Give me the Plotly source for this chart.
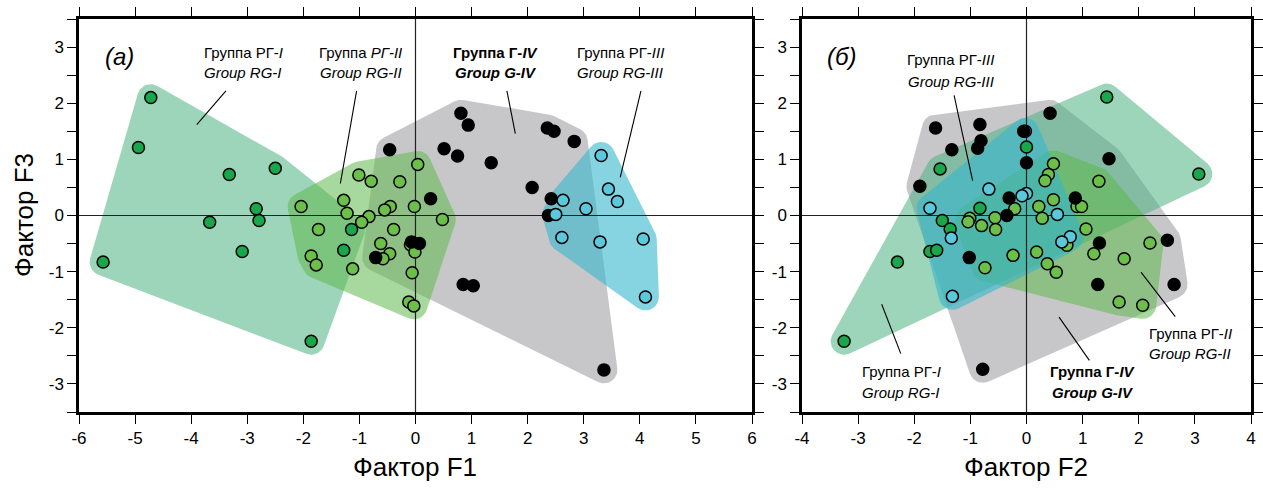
import math
import plotly.graph_objects as go

W, H = 1263, 490

# ---------------- data: panel (a) F1 vs F3 ----------------
a_rg1_x = [-4.72, -4.94, -3.32, -2.50, -2.84, -2.79, -3.67, -3.09, -5.57, -1.86, -1.28, -1.14]
a_rg1_y = [2.10, 1.21, 0.73, 0.84, 0.12, -0.09, -0.12, -0.64, -0.83, -2.24, -0.62, -0.25]

a_rg2_x = [0.04, -1.01, -0.79, -0.28, -1.28, -2.04, -1.22, -0.45, -0.55, -0.02, -0.83, -0.96, 0.48,
           -1.73, -0.39, -0.62, -0.46, -0.58, -0.09, -0.01, -1.86, -1.77, -1.12, -0.06, -0.12, -0.03]
a_rg2_y = [0.91, 0.72, 0.61, 0.60, 0.27, 0.16, 0.04, 0.16, 0.10, 0.16, -0.02, -0.12, -0.07,
           -0.25, -0.25, -0.50, -0.68, -0.77, -0.52, -0.65, -0.72, -0.88, -0.95, -1.02, -1.54, -1.61]

a_g4_x = [-0.46, 0.81, 0.94, 0.51, 0.75, 1.35, 2.35, 2.47, 2.83, 2.08, 2.42, 2.37, 0.27, -0.07, 0.07,
          0.85, 1.03, 3.36, -0.71]
a_g4_y = [1.17, 1.82, 1.61, 1.19, 1.06, 0.94, 1.56, 1.50, 1.32, 0.50, 0.30, 0.00, 0.30, -0.47, -0.50,
          -1.23, -1.25, -2.75, -0.75]

a_rg3_x = [3.31, 3.44, 3.60, 3.04, 2.63, 2.50, 2.61, 3.29, 4.06, 4.10]
a_rg3_y = [1.07, 0.47, 0.25, 0.12, 0.27, 0.02, -0.39, -0.47, -0.42, -1.45]

# ---------------- data: panel (б) F2 vs F3 ----------------
b_rg1_x = [1.43, 3.07, 0.00, -1.54, -0.83, -1.50, -1.36, -1.72, -1.60, -2.30, -3.25]
b_rg1_y = [2.11, 0.74, 1.22, 0.83, 0.13, -0.09, -0.24, -0.64, -0.62, -0.83, -2.24]

b_rg2_x = [0.48, 0.39, 0.33, -0.21, 0.48, 0.22, 0.28, -1.01, -1.04, -0.80, -0.56, -0.55, -0.24, 0.18,
           -0.74, 0.37, 0.53, 1.29, 0.90, 0.98, 1.06, 1.20, 1.74, 2.20, 1.65, 2.07, 0.72]
b_rg2_y = [0.92, 0.73, 0.62, 0.12, 0.28, 0.16, -0.05, -0.05, -0.11, -0.18, -0.04, -0.25, -0.71, -0.65,
           -0.93, -0.86, -1.01, 0.61, 0.16, 0.16, -0.24, -0.68, -0.77, -0.49, -1.54, -1.60, -0.53]

b_g4_x = [-1.62, -0.83, -0.81, -0.87, -1.33, -1.90, -0.31, -0.35, -1.02, -0.78, 0.42, -0.05, 0.00,
          1.47, 0.87, 1.30, 2.51, 1.27, 2.63]
b_g4_y = [1.56, 1.62, 1.33, 1.20, 1.17, 0.52, 0.31, 0.00, -0.75, -2.74, 1.82, 1.50, 0.94,
          1.01, 0.31, -0.49, -0.44, -1.23, -1.23]

b_rg3_x = [-0.67, -1.72, -1.34, -1.32, -0.02, 0.00, -0.08, 0.55, 0.78, 0.63]
b_rg3_y = [0.47, 0.13, -0.40, -1.44, 1.50, 0.39, 0.35, 0.02, -0.38, -0.47]

x_ticks_a = [-6, -5, -4, -3, -2, -1, 0, 1, 2, 3, 4, 5, 6]
x_ticks_b = [-4, -3, -2, -1, 0, 1, 2, 3, 4]
y_ticks = [-3, -2, -1, 0, 1, 2, 3]

# ---------------- styles ----------------
C_RG1_PT, C_RG2_PT, C_RG3_PT, C_G4_PT = "#1aa64a", "#6cc04a", "#5bc8dc", "#000000"
F_RG1 = "rgba(77,179,131,0.55)"
F_RG2 = "rgba(95,184,77,0.55)"
F_RG3 = "rgba(53,182,205,0.6)"
F_G4 = "rgba(172,173,177,0.68)"
PAD = 0.24
FONT = "Liberation Sans, Arial, sans-serif"


def padded_hull(xs, ys, r, n_arc=14):
    pts = sorted(set(zip(xs, ys)))

    def cross(o, a, b):
        return (a[0] - o[0]) * (b[1] - o[1]) - (a[1] - o[1]) * (b[0] - o[0])

    lower, upper = [], []
    for p in pts:
        while len(lower) >= 2 and cross(lower[-2], lower[-1], p) <= 0:
            lower.pop()
        lower.append(p)
    for p in reversed(pts):
        while len(upper) >= 2 and cross(upper[-2], upper[-1], p) <= 0:
            upper.pop()
        upper.append(p)
    hull = lower[:-1] + upper[:-1]  # CCW
    n = len(hull)
    ox, oy = [], []
    for i, p in enumerate(hull):
        pr, nx = hull[i - 1], hull[(i + 1) % n]
        e1 = (p[0] - pr[0], p[1] - pr[1])
        e2 = (nx[0] - p[0], nx[1] - p[1])
        a1 = math.atan2(-e1[0], e1[1])
        a2 = math.atan2(-e2[0], e2[1])
        while a2 < a1:
            a2 += 2 * math.pi
        for k in range(n_arc + 1):
            t = a1 + (a2 - a1) * k / n_arc
            ox.append(p[0] + r * math.cos(t))
            oy.append(p[1] + r * math.sin(t))
    ox.append(ox[0])
    oy.append(oy[0])
    return ox, oy


fig = go.Figure()


def add_panel(xa, ya, xrange, groups_hull, groups_pts):
    for xs, ys, fc in groups_hull:
        hx, hy = padded_hull(xs, ys, PAD)
        fig.add_trace(go.Scatter(x=hx, y=hy, mode="lines", fill="toself", fillcolor=fc,
                                 line=dict(width=0), hoverinfo="skip", showlegend=False,
                                 xaxis=xa, yaxis=ya))
    # zero reference lines (between hulls and points)
    fig.add_trace(go.Scatter(x=[xrange[0], xrange[1]], y=[0, 0], mode="lines",
                             line=dict(color="#222", width=1.2), showlegend=False,
                             hoverinfo="skip", xaxis=xa, yaxis=ya))
    fig.add_trace(go.Scatter(x=[0, 0], y=[-3.5, 3.5], mode="lines",
                             line=dict(color="#222", width=1.2), showlegend=False,
                             hoverinfo="skip", xaxis=xa, yaxis=ya))
    for xs, ys, col in groups_pts:
        fig.add_trace(go.Scatter(x=xs, y=ys, mode="markers",
                                 marker=dict(size=12, color=col, line=dict(color="black", width=1.5)),
                                 showlegend=False, xaxis=xa, yaxis=ya))


add_panel("x", "y", (-6, 6),
          [(a_g4_x, a_g4_y, F_G4), (a_rg1_x, a_rg1_y, F_RG1),
           (a_rg2_x, a_rg2_y, F_RG2), (a_rg3_x, a_rg3_y, F_RG3)],
          [(a_rg1_x, a_rg1_y, C_RG1_PT), (a_rg2_x, a_rg2_y, C_RG2_PT),
           (a_g4_x, a_g4_y, C_G4_PT), (a_rg3_x, a_rg3_y, C_RG3_PT)])
add_panel("x2", "y2", (-4, 4),
          [(b_g4_x, b_g4_y, F_G4), (b_rg1_x, b_rg1_y, F_RG1),
           (b_rg2_x, b_rg2_y, F_RG2), (b_rg3_x, b_rg3_y, F_RG3)],
          [(b_rg1_x, b_rg1_y, C_RG1_PT), (b_rg2_x, b_rg2_y, C_RG2_PT),
           (b_rg3_x, b_rg3_y, C_RG3_PT), (b_g4_x, b_g4_y, C_G4_PT)])


def tick_txt(vals):
    return [("-" + str(abs(v))) if v < 0 else str(v) for v in vals]


ydom = [1 - 412 / H, 1 - 19 / H]
axis_common = dict(showline=True, linecolor="black", linewidth=2.5, mirror="allticks",
                   ticks="outside", ticklen=9, tickwidth=1.2, tickcolor="black",
                   showgrid=False, zeroline=False, automargin=False,
                   tickfont=dict(family=FONT, size=17, color="black"))
minor_y = dict(dtick=0.5, ticks="outside", ticklen=9, tickwidth=1.2, tickcolor="black")

fig.update_layout(
    width=W, height=H, margin=dict(l=0, r=0, t=0, b=0),
    paper_bgcolor="white", plot_bgcolor="white",
    xaxis=dict(domain=[79 / W, 752 / W], range=[-6, 6], tickvals=x_ticks_a,
               ticktext=tick_txt(x_ticks_a), anchor="y", **axis_common),
    yaxis=dict(domain=ydom, range=[-3.5, 3.5], tickvals=y_ticks, ticktext=tick_txt(y_ticks),
               anchor="x", minor=minor_y, **axis_common),
    xaxis2=dict(domain=[802 / W, 1251 / W], range=[-4, 4], tickvals=x_ticks_b,
                ticktext=tick_txt(x_ticks_b), anchor="y2", **axis_common),
    yaxis2=dict(domain=ydom, range=[-3.5, 3.5], tickvals=y_ticks, ticktext=tick_txt(y_ticks),
                anchor="x2", minor=minor_y, **axis_common),
)

# group labels: (xref, yref, x, y1, y2, line1, line2, leader x0,y0,x1,y1)
labels = [
    ("x", "y", -3.07, 2.91, 2.55, "Группа РГ-<i>I</i>", "<i>Group RG-I</i>", (-3.38, 2.22, -3.90, 1.62)),
    ("x", "y", -0.98, 2.91, 2.55, "Группа <i>РГ-II</i>", "<i>Group RG-II</i>", (-1.05, 2.22, -1.34, 0.57)),
    ("x", "y", 1.43, 2.91, 2.55, "<b>Группа Г-<i>IV</i></b>", "<b><i>Group G-IV</i></b>", (1.63, 2.22, 1.78, 1.46)),
    ("x", "y", 3.65, 2.91, 2.55, "Группа РГ-<i>III</i>", "<i>Group RG-III</i>", (4.02, 2.22, 3.65, 0.68)),
    ("x2", "y2", -1.35, 2.77, 2.39, "Группа РГ-<i>III</i>", "<i>Group RG-III</i>", (-1.29, 2.14, -0.96, 0.62)),
    ("x2", "y2", -2.23, -2.78, -3.15, "Группа РГ-<i>I</i>", "<i>Group RG-I</i>", (-2.58, -1.58, -2.24, -2.46)),
    ("x2", "y2", 1.19, -2.78, -3.16, "<b>Группа Г-<i>IV</i></b>", "<b><i>Group G-IV</i></b>", (0.58, -1.81, 1.12, -2.58)),
    ("x2", "y2", 2.92, -2.10, -2.45, "Группа РГ-<i>II</i>", "<i>Group RG-II</i>", (2.04, -1.01, 2.65, -1.80)),
]
for xr, yr, x, y1, y2, t1, t2, ld in labels:
    for yy, tt in ((y1, t1), (y2, t2)):
        fig.add_annotation(x=x, y=yy, xref=xr, yref=yr, text=tt, showarrow=False,
                           font=dict(family=FONT, size=15, color="black"),
                           xanchor="center", yanchor="middle")
    fig.add_shape(type="line", xref=xr, yref=yr, x0=ld[0], y0=ld[1], x1=ld[2], y1=ld[3],
                  line=dict(color="black", width=1.1))

# panel letters
fig.add_annotation(x=-5.28, y=2.83, xref="x", yref="y", text="<i>(а)</i>", showarrow=False,
                   font=dict(family=FONT, size=24, color="black"), xanchor="center", yanchor="middle")
fig.add_annotation(x=-3.29, y=2.84, xref="x2", yref="y2", text="<i>(б)</i>", showarrow=False,
                   font=dict(family=FONT, size=24, color="black"), xanchor="center", yanchor="middle")

# axis titles
fig.add_annotation(x=415 / W, y=1 - 467 / H, xref="paper", yref="paper", text="Фактор F1",
                   showarrow=False, font=dict(family=FONT, size=26, color="black"),
                   xanchor="center", yanchor="middle")
fig.add_annotation(x=1026 / W, y=1 - 467 / H, xref="paper", yref="paper", text="Фактор F2",
                   showarrow=False, font=dict(family=FONT, size=26, color="black"),
                   xanchor="center", yanchor="middle")
fig.add_annotation(x=24 / W, y=1 - 215 / H, xref="paper", yref="paper", text="Фактор F3",
                   showarrow=False, textangle=-90, font=dict(family=FONT, size=26, color="black"),
                   xanchor="center", yanchor="middle")

fig.write_html("out.html")
